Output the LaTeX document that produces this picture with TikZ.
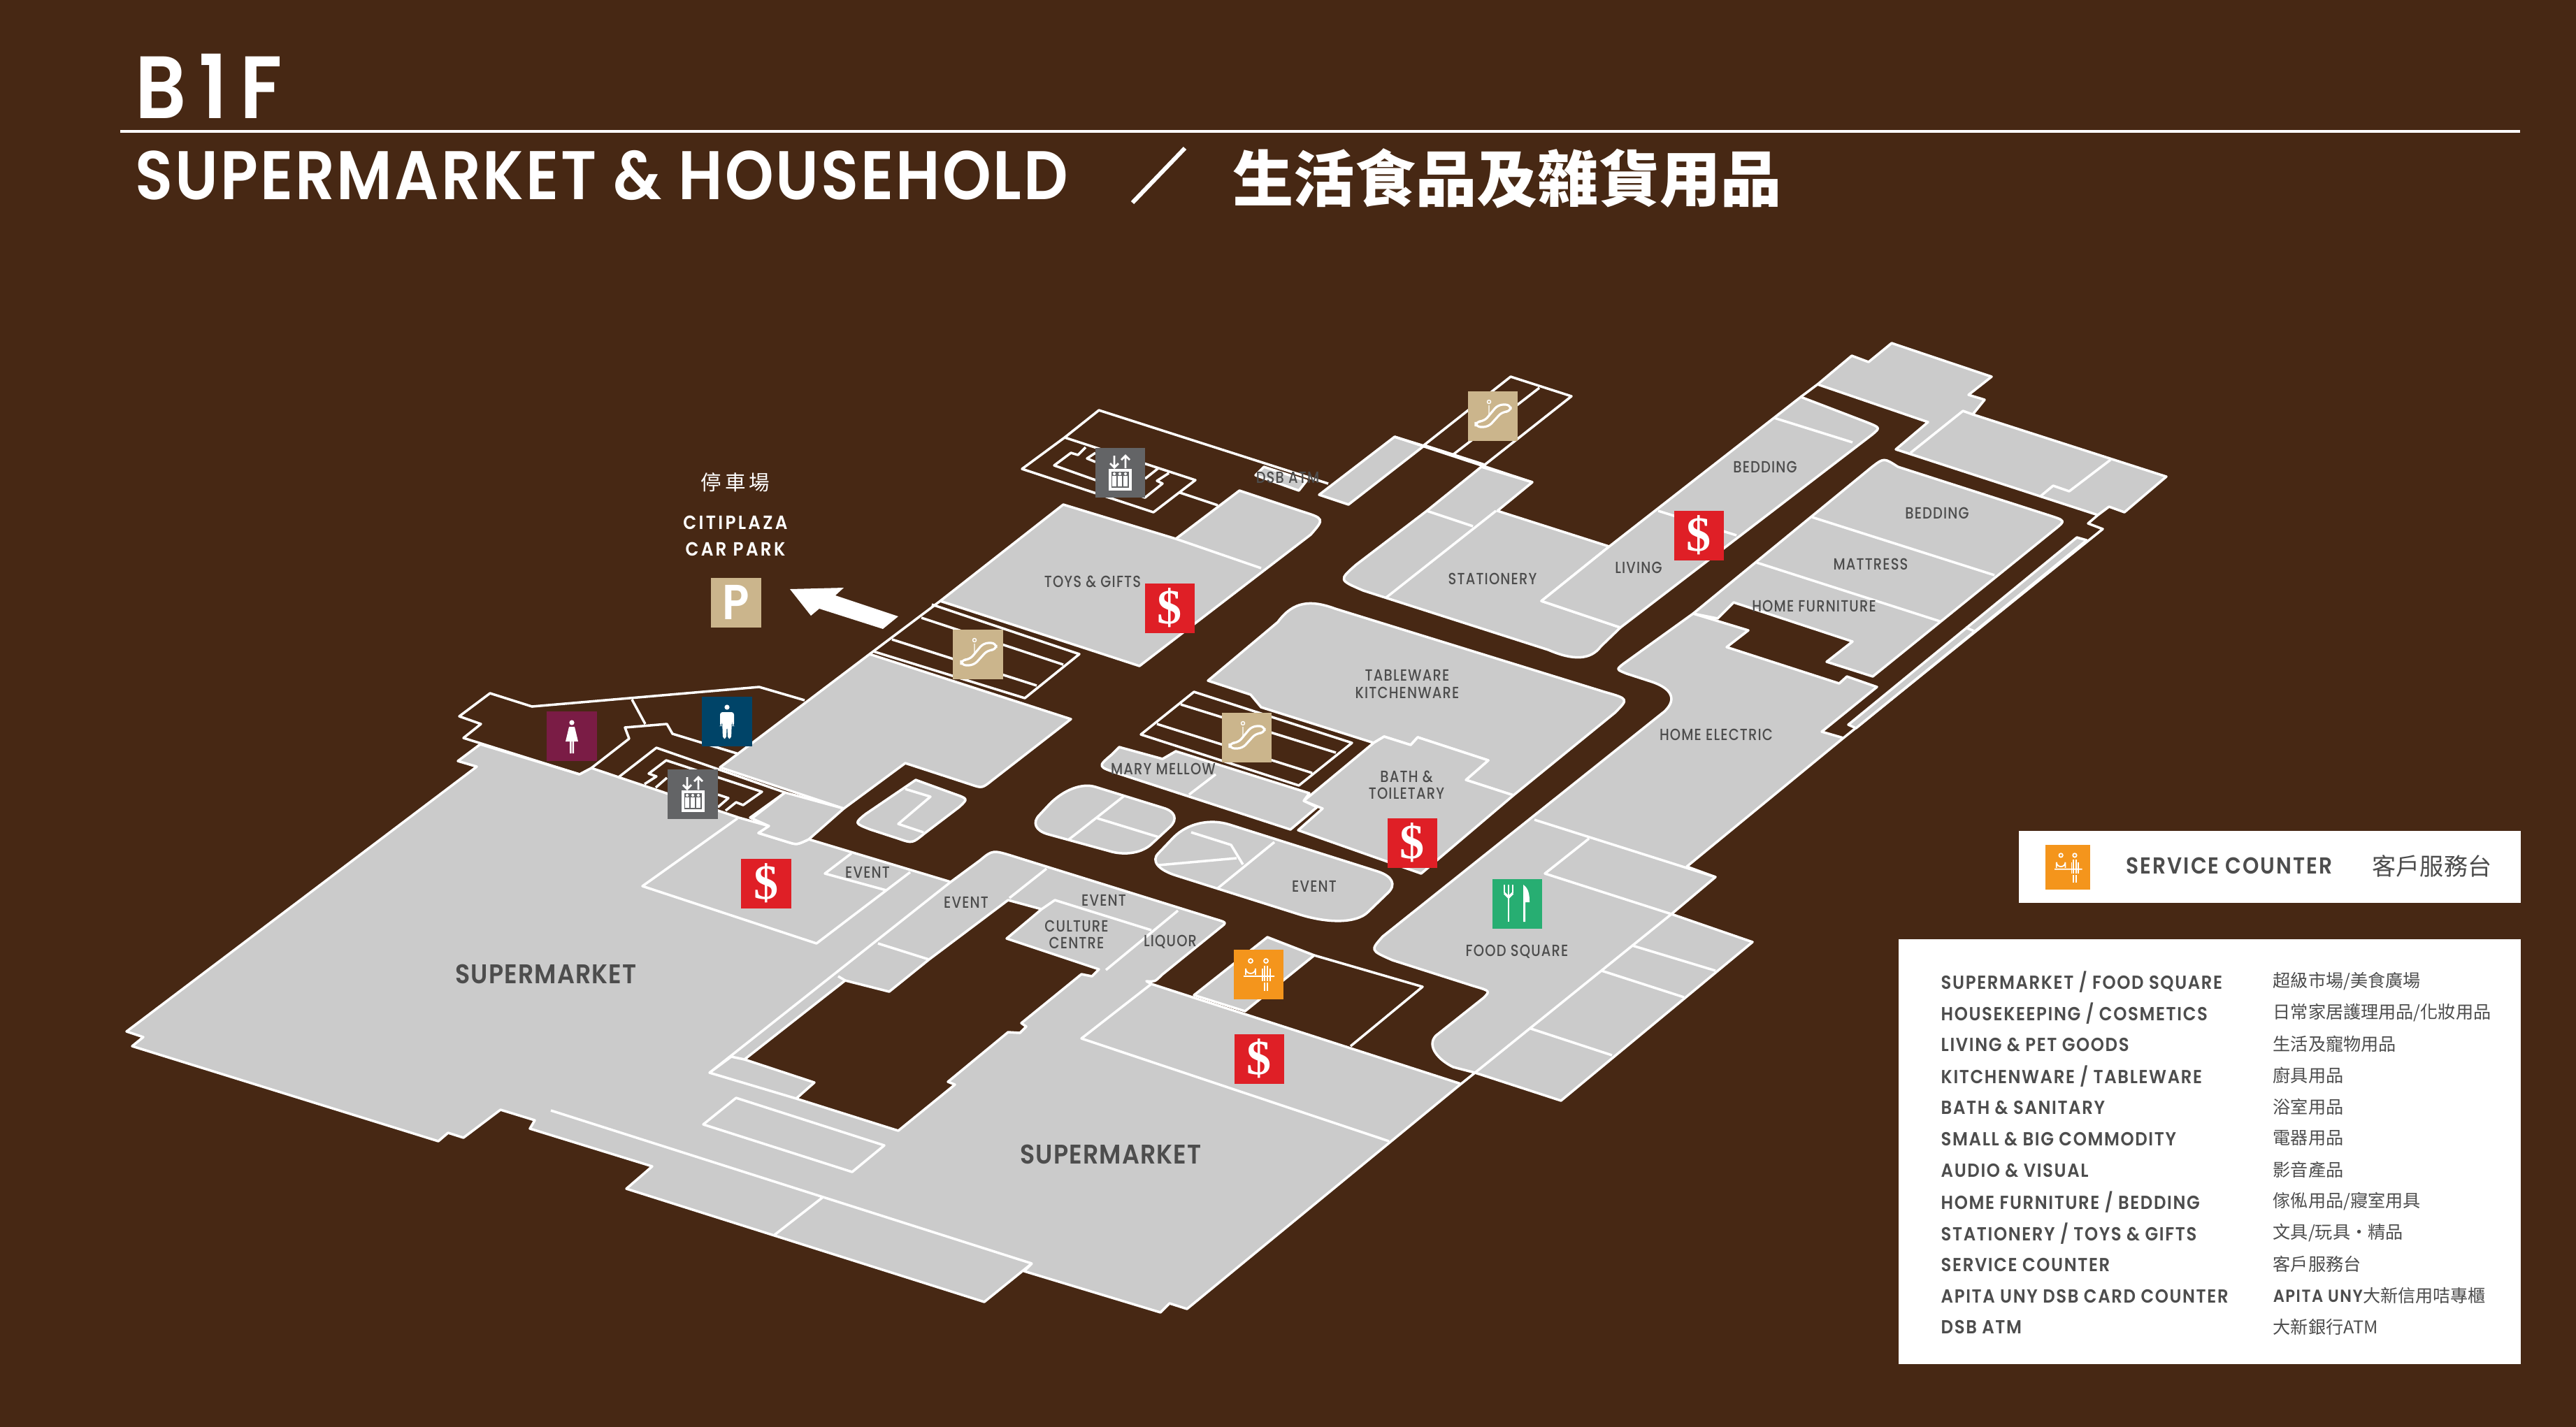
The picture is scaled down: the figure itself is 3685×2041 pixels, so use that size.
\documentclass[tikz,border=0pt]{standalone}
\usepackage{fontspec}
\newfontfamily\mapfont[FakeStretch=.84,LetterSpace=5]{Poppins Medium}
\newfontfamily\headfont[FakeStretch=.9,LetterSpace=6]{Poppins SemiBold}
\newfontfamily\headbold[FakeStretch=.9,LetterSpace=3]{Poppins SemiBold}
\newfontfamily\zhfont{Noto Sans CJK TC}
\newfontfamily\cashfont{Liberation Serif}
\definecolor{bgbrown}{HTML}{472814}
\definecolor{shopgray}{HTML}{CBCBCB}
\definecolor{ink}{HTML}{4D4D4D}
\definecolor{cashred}{HTML}{DF1F26}
\definecolor{tan}{HTML}{CBB58C}
\definecolor{ladies}{HTML}{7A1C45}
\definecolor{gents}{HTML}{004468}
\definecolor{liftgray}{HTML}{636466}
\definecolor{counter}{HTML}{F4951C}
\definecolor{foodgreen}{HTML}{27AE72}
\tikzset{
  liftmark/.pic={
    \draw[white,line width=.8pt] (-8,-24) -- (-8,-7) (-14,-13) -- (-8,-7) -- (-2,-13)
      (8,-6) -- (8,-24) (2,-18) -- (8,-24) -- (14,-18);
    \draw[white,line width=.9pt] (-14,-3) rectangle (15,24);
    \foreach \px in {-8,0,8}{
      \fill[white] (\px,2) circle (2);
      \fill[white] (\px-3,5) rectangle (\px+3,20);
    }
  },
  escmark/.pic={
    \draw[white,line width=.9pt,rounded corners=2] (-24,8) -- (-12,8) -- (8,-16) -- (26,-16)
      -- (26,-6) -- (14,-6) -- (-6,16) -- (-24,16) -- cycle;
    \draw[white,line width=.4pt] (-5,-20) circle (2.5) (-5,-15) -- (-5,-2);
  },
  ladymark/.pic={
    \fill[white] (0,-19) circle (3.6);
    \fill[white] (-4,-13) -- (4,-13) -- (9,8) -- (-9,8) -- cycle;
    \fill[white] (-3,8) rectangle (-.5,25) (.5,8) rectangle (3,25);
  },
  manmark/.pic={
    \fill[white] (0,-20) circle (3.6);
    \fill[white,rounded corners=1] (-10,-13) -- (10,-13) -- (10,7) -- (7.5,7) -- (7,-3) -- (6,25)
      -- (1,25) -- (.5,8) -- (-.5,8) -- (-1,25) -- (-6,25) -- (-7,-3) -- (-7.5,7) -- (-10,7) -- cycle;
  },
  servicemark/.pic={
    \draw[white,line width=.5pt] (-11,-19) circle (3) (11,-19) circle (3)
      (-18,1) -- (-18,-8) arc (180:0:7) -- (-4,1) (-21,3) -- (23,3);
    \draw[white,line width=.5pt] (6,-8) -- (6,10) (9,-12) -- (9,10) (13,-12) -- (13,10) (17,-8) -- (17,10)
      (9,12) -- (9,24) (13,12) -- (13,24);
  },
  foodmark/.pic={
    \draw[white,line width=.7pt] (-18,-27) -- (-18,-15) (-12,-27) -- (-12,26) (-6,-27) -- (-6,-15);
    \draw[white,line width=1pt] (-18,-15) -- (-12,-9) -- (-6,-15);
    \fill[white] (9,-27) .. controls (17,-22) and (18,-12) .. (18,-2) -- (12,-2) -- (12,26) -- (9,26) -- cycle;
  }
}
\begin{document}
\begin{tikzpicture}[x=.01cm,y=-.01cm,
    shop/.style={fill=shopgray,draw=white,line width=1pt,line join=round},
    wall/.style={draw=white,line width=1pt,line join=round},
    hole/.style={fill=bgbrown,draw=white,line width=1pt,line join=round},
    iconbox/.style={minimum size=.71cm,inner sep=0,outer sep=0},
    cash/.style={iconbox,fill=cashred,text=white,font=\cashfont\bfseries\fontsize{20}{20}\selectfont},
    lbl/.style={font=\mapfont\fontsize{6.6}{6.9}\selectfont,text=ink,align=center,inner sep=0},
    biglbl/.style={font=\headbold\fontsize{11}{12}\selectfont,text=ink,inner sep=0},
    listen/.style={font=\headfont\fontsize{7.7}{9}\selectfont,text=ink,anchor=west,inner sep=0},
    listzh/.style={font=\zhfont\fontsize{7.15}{9}\selectfont,text=ink,anchor=west,inner sep=0}]
  \useasboundingbox (0,0) rectangle (3685,2041);
  \fill[bgbrown] (-10,-10) rectangle (3695,2051);
  % title
  \node[font=\headbold\addfontfeatures{LetterSpace=14}\fontsize{36}{36}\selectfont,text=white,anchor=west,inner sep=0] (floorname) at (193,123) {B1F};
  \draw[white,line width=1.4pt] (172,188) -- (3605,188);
  \node[font=\headbold\fontsize{28}{28}\selectfont,text=white,anchor=west,inner sep=0] (titleen) at (193,251) {SUPERMARKET \& HOUSEHOLD};
  \draw[white,line width=1.7pt] (1620,290) -- (1695,212);
  \node[font=\zhfont\bfseries\fontsize{24.8}{26}\selectfont,text=white,anchor=west,inner sep=0] (titlezh) at (1763,255) {生活食品及雜貨用品};
  % big supermarket floor
  \draw[shop] (687,1065) -- (829,1108) -- (846,1099) -- (1057,1170) -- (1100,1182) -- (1085,1192)
    -- (1127,1205) .. controls (1140,1209) .. (1157,1201) -- (1360,1262)
    -- (1402,1231) .. controls (1420,1216) .. (1452,1226) -- (1738,1315) .. controls (1755,1320) .. (1746,1327)
    -- (1662,1395) .. controls (1652,1405) .. (1640,1404) -- (1647,1408) -- (2090,1551)
    -- (1698,1873) -- (1673,1865) -- (1660,1878) -- (1465,1819) -- (1476,1808) -- (1408,1863)
    -- (896,1701) -- (933,1669) -- (758,1615) -- (765,1603) -- (716,1588) -- (663,1628) -- (641,1621)
    -- (627,1633) -- (189,1497) -- (205,1484) -- (181,1476) -- (682,1097) -- (655,1089) -- cycle;
  \draw[hole] (1442,1288) -- (1490,1301) -- (1440,1343) -- (1572,1387) -- (1562,1397) -- (1547,1394)
    -- (1461,1464) -- (1468,1469) -- (1459,1478) -- (1442,1477) -- (1356,1548) -- (1366,1552) -- (1285,1618)
    -- (1139,1572) -- (1165,1549) -- (1065,1516) -- (1209,1403) -- (1272,1419) -- (1329,1373) -- cycle;
  \draw[wall] (788,1589) -- (1476,1808) (1176,1714) -- (1108,1767);
  \draw[shop] (1053,1571) -- (1265,1639) -- (1219,1677) -- (1006,1609) -- cycle;
  \draw[wall] (1046,1512) -- (1015,1535) -- (1139,1572) (1046,1512) -- (1065,1516) (1015,1535) -- (1360,1262)
    (1199,1397) -- (1209,1403) (1256,1350) -- (1329,1373) (1444,1285) -- (1497,1243)
    (1490,1301) -- (1509,1288) -- (1647,1331) (1685,1303) -- (1582,1388)
    (1647,1408) -- (1547,1486) -- (1987,1633)
    (1055,1171) -- (919,1268) -- (1168,1350) -- (1302,1248)
    (1218,1221) -- (1180,1250) -- (1268,1274);
  % service counter corner
  \draw[shop] (1708,1424) -- (1813,1341) -- (1880,1367) -- (1781,1447) -- cycle;
  \draw[wall] (1880,1367) -- (2035,1412) -- (1932,1497);
  % shops round the aisles
  \draw[shop] (1244,936) -- (1532,1029) -- (1420,1116) .. controls (1405,1128) .. (1390,1123) -- (1295,1092)
    -- (1207,1157) -- (1030,1098) -- cycle;
  \draw[shop] (1123,1134) -- (1207,1157) -- (1157,1201) .. controls (1140,1209) .. (1127,1205) -- (1085,1192)
    -- (1100,1182) -- (1073,1170) -- cycle;
  \draw[shop] (1521,722) -- (1682,771) -- (1773,702) -- (1860,731) .. controls (1895,742) .. (1875,765)
    -- (1630,953) -- (1345,860) -- cycle;
  \draw[wall] (1682,771) -- (1804,813);
  \draw[wall] (1244,936) -- (1345,860);
  \draw[shop] (1728,974) -- (1789,994) -- (1804,1012) -- (1965,1063) -- (1980,1054) -- (2018,1066) -- (2028,1055)
    -- (2129,1088) -- (2097,1116) -- (2165,1138) -- (2310,1020) .. controls (2330,1000) .. (2295,990)
    -- (1910,871) .. controls (1875,858) and (1850,860) .. (1828,890) -- cycle;
  \draw[shop] (1965,1063) -- (1980,1054) -- (2018,1066) -- (2028,1055) -- (2129,1088) -- (2097,1116) -- (2165,1138)
    -- (2033,1250) -- (1857,1188) -- (1892,1157) -- (1865,1146) -- cycle;
  \draw[shop] (1601,1069) -- (1663,1086) -- (1682,1075) -- (1873,1135) -- (1865,1146) -- (1884,1155) -- (1846,1187)
    -- (1600,1107) .. controls (1570,1097) .. (1590,1080) -- cycle;
  \draw[wall] (1701,1137) -- (1739,1108);
  % islands
  \draw[shop] (1310,1116) -- (1365,1136) .. controls (1385,1143) .. (1372,1155) -- (1322,1193)
    .. controls (1305,1207) .. (1285,1200) -- (1245,1187) .. controls (1222,1178) .. (1238,1165) -- cycle;
  \draw[wall] (1295,1129) -- (1331,1140) -- (1285,1179) -- (1321,1191);
  \draw[shop] (1502,1150) .. controls (1522,1130) and (1548,1120) .. (1567,1126) -- (1664,1156)
    .. controls (1681,1161) and (1685,1172) .. (1674,1183) -- (1647,1208)
    .. controls (1634,1220) and (1612,1224) .. (1591,1219) -- (1500,1194)
    .. controls (1481,1189) and (1476,1177) .. (1487,1166) -- cycle;
  \draw[wall] (1608,1139) -- (1528,1202) (1570,1171) -- (1658,1198);
  \draw[shop] (1679,1198) .. controls (1699,1178) and (1731,1171) .. (1759,1180) -- (1971,1247)
    .. controls (1992,1254) and (1998,1266) .. (1985,1278) -- (1957,1305)
    .. controls (1941,1321) and (1901,1322) .. (1857,1308) -- (1683,1253)
    .. controls (1657,1245) and (1646,1232) .. (1657,1221) -- cycle;
  \draw[wall] (1823,1205) -- (1742,1271) (1704,1191) -- (1761,1209) -- (1778,1237) (1657,1238) -- (1769,1228);
  % stationery, living, upper blocks
  \draw[shop] (2119,668) -- (2192,690) -- (2142,731) -- (2302,782) -- (2205,860) -- (2318,898)
    -- (2290,925) .. controls (2275,945) and (2250,945) .. (2215,930) -- (1950,845) .. controls (1915,830) .. (1940,808)
    -- (2041,731) -- cycle;
  \draw[wall] (2041,731) -- (2107,753) (2140,731) -- (1983,855);
  \draw[shop] (2205,860) -- (2302,782) -- (2576,568) -- (2670,604) .. controls (2690,612) .. (2678,622) -- (2318,898) -- cycle;
  \draw[wall] (2538,598) -- (2650,633) (2372,731) -- (2484,766);
  \draw[shop] (2600,550) -- (2649,509) -- (2673,518) -- (2706,491) -- (2849,539) -- (2816,565) -- (2839,572)
    -- (2822,593) -- (3099,682) -- (3039,733) -- (3017,725) -- (3001,737) -- (2712,643) -- (2758,604) -- cycle;
  \draw[wall] (2822,593) -- (2808,588) -- (2733,648) (2600,550) -- (2576,568)
    (3019,658) -- (2960,703) -- (2937,695) -- (2919,710);
  \draw[wall] (3001,737) -- (2987,749) -- (3008,757) -- (2637,1056);
  \draw[shop] (2971,769) -- (2985,773) -- (2655,1042) -- (2644,1037) -- cycle;
  \draw[wall] (2812,898) -- (2824,903);
  \draw[shop] (2678,668) .. controls (2695,655) .. (2715,668) -- (2930,737) .. controls (2955,745) .. (2940,757)
    -- (2679,968) -- (2613,947) -- (2650,918) -- (2480,862) -- (2457,885) -- (2422,878) -- cycle;
  \draw[wall] (2592,740) -- (2853,823) (2513,805) -- (2775,889);
  % home electric and food square
  \draw[shop] (2422,878) -- (2501,902) -- (2470,926) -- (2631,978) -- (2642,968) -- (2685,983) -- (2606,1047)
    -- (2637,1056) -- (2413,1240) -- (2454,1255) -- (2391,1308) -- (2507,1348) -- (2233,1575) -- (2110,1535) -- (2079,1527)
    .. controls (2058,1517) and (2040,1497) .. (2054,1482) -- (2122,1428) .. controls (2132,1418) .. (2108,1411)
    -- (1992,1374) .. controls (1960,1360) .. (1978,1340) -- (2381,1018) .. controls (2400,1000) and (2390,985) .. (2364,976)
    -- (2327,964) .. controls (2312,958) .. (2322,950) -- cycle;
  \draw[wall] (2195,1173) -- (2454,1255) (2273,1200) -- (2210,1250) -- (2391,1308) (2391,1308) -- (2110,1535) -- (2090,1551)
    (2335,1353) -- (2454,1389) (2291,1389) -- (2409,1427) (2190,1472) -- (2306,1510);
  % escalators and lifts, outlines only
  \draw[wall] (1333,865) -- (1544,936) -- (1466,999) -- (1249,932) (1318,884) -- (1521,951) (1276,915) -- (1483,981);
  \draw[wall] (1708,990) -- (1934,1063) -- (1858,1124) -- (1632,1051) -- cycle (1689,1008) -- (1911,1077) (1655,1036) -- (1877,1106);
  \draw[wall] (2161,539) -- (2248,567) -- (2124,665) -- (2037,637) -- cycle (2202,555) -- (2078,651);
  \draw[shop] (1995,625) -- (2037,638) -- (1929,722) -- (1887,708) -- cycle;
  \draw[wall] (1995,625) -- (2192,690);
  \draw[wall] (1523,626) -- (1462,671) -- (1650,733) -- (1710,687) -- (1523,626) (1523,626) -- (1572,587) -- (1900,692)
    (1688,705) -- (1742,723)
    (1553,640) -- (1542,651) -- (1532,648) -- (1508,666) -- (1638,712) -- (1663,692) -- (1655,688) -- (1672,677)
    (1567,648) -- (1555,656) -- (1567,661) (1638,685) -- (1657,670);
  \draw[shop] (1808,668) -- (1869,688) -- (1858,702) -- (1796,680) -- cycle;
  % toilets and west lift
  \draw[wall] (829,1108) -- (663,1056) -- (688,1036) -- (657,1025) -- (701,992) -- (761,1011) -- (1086,983) -- (1151,1002)
    (846,1099) -- (900,1057) -- (894,1041) -- (954,1036) -- (962,1050) -- (1057,1079)
    (904,1001) -- (923,1036);
  \draw[wall] (885,1112) -- (939,1070) -- (1123,1134) -- (1077,1170)
    (922,1122) -- (939,1111) -- (928,1107) -- (953,1088) -- (1090,1133) -- (1063,1152) -- (1053,1148) -- (1038,1160)
    (954,1113) -- (938,1127) (1027,1137) -- (1042,1142) -- (1027,1155);
  % arrow to car park
  \fill[white] (1130,843) -- (1207,841) -- (1195,852) -- (1285,882) -- (1263,900) -- (1172,871) -- (1160,881) -- cycle;
  % icons
  \foreach \cname/\cx/\cy in {cashwest/1096/1264,cashtoys/1673/870,cashbath/2020/1206,cashsouth/1801/1515,cashliving/2430/766}
    \node[cash] (\cname) at (\cx,\cy) {\$};
  \node[iconbox,fill=ladies] (ladies) at (818,1053) {};
  \pic at (ladies) {ladymark};
  \node[iconbox,fill=gents] (gents) at (1040,1032) {};
  \pic at (gents) {manmark};
  \node[iconbox,fill=liftgray] (liftwest) at (991,1136) {};
  \pic at (liftwest) {liftmark};
  \node[iconbox,fill=liftgray] (liftnorth) at (1602,676) {};
  \pic at (liftnorth) {liftmark};
  \node[iconbox,fill=tan] (escwest) at (1399,936) {};
  \pic at (escwest) {escmark};
  \node[iconbox,fill=tan] (esccentre) at (1783,1055) {};
  \pic at (esccentre) {escmark};
  \node[iconbox,fill=tan] (escnorth) at (2135,595) {};
  \pic at (escnorth) {escmark};
  \node[iconbox,fill=counter] (counter) at (1800,1394) {};
  \pic at (counter) {servicemark};
  \node[iconbox,fill=foodgreen] (food) at (2170,1293) {};
  \pic at (food) {foodmark};
  \node[iconbox,fill=tan,text=white,font=\headbold\fontsize{20}{20}\selectfont] (parking) at (1053,862) {P};
  % car park text
  \node[font=\zhfont\fontsize{8.4}{10}\selectfont,text=white,inner sep=0] (parkzh) at (1052,690) {停\,車\,場};
  \node[font=\headbold\addfontfeatures{LetterSpace=12}\fontsize{7.8}{10.8}\selectfont,text=white,align=center,inner sep=0] (parken) at (1052,767) {CITIPLAZA\\CAR PARK};
  % shop names
  \node[biglbl] (smwest) at (781,1394) {SUPERMARKET};
  \node[biglbl] (smsouth) at (1589,1652) {SUPERMARKET};
  \node[lbl] (evone) at (1241,1248) {EVENT};
  \node[lbl] (evtwo) at (1382,1291) {EVENT};
  \node[lbl] (evthree) at (1579,1288) {EVENT};
  \node[lbl] (culture) at (1540,1337) {CULTURE\\CENTRE};
  \node[lbl] (liquor) at (1674,1348) {LIQUOR};
  \node[lbl] (evfour) at (1880,1268) {EVENT};
  \node[lbl] (mary) at (1664,1100) {MARY MELLOW};
  \node[lbl] (bath) at (2012,1123) {BATH \&\\TOILETARY};
  \node[lbl] (toys) at (1563,832) {TOYS \& GIFTS};
  \node[lbl] (dsbatm) at (1842,683) {DSB ATM};
  \node[lbl] (tableware) at (2013,979) {TABLEWARE\\KITCHENWARE};
  \node[lbl] (stationery) at (2135,828) {STATIONERY};
  \node[lbl] (living) at (2344,812) {LIVING};
  \node[lbl] (beddingone) at (2525,668) {BEDDING};
  \node[lbl] (beddingtwo) at (2771,734) {BEDDING};
  \node[lbl] (mattress) at (2676,807) {MATTRESS};
  \node[lbl] (homefurn) at (2595,867) {HOME FURNITURE};
  \node[lbl] (homeelec) at (2455,1051) {HOME ELECTRIC};
  \node[lbl] (foodsq) at (2170,1362) {FOOD SQUARE};
  % service counter panel
  \fill[white] (2888,1189) rectangle (3606,1292);
  \node[minimum size=.64cm,inner sep=0,fill=counter] (counterkey) at (2958,1241) {};
  \pic[scale=.9] at (counterkey) {servicemark};
  \node[font=\headfont\fontsize{9.4}{11}\selectfont,text=ink,anchor=west,inner sep=0] (counteren) at (3041,1239) {SERVICE COUNTER};
  \node[font=\zhfont\fontsize{9.7}{11}\selectfont,text=ink,anchor=west,inner sep=0] (counterzh) at (3393,1239) {客戶服務台};
  % list panel
  \fill[white] (2716,1344) rectangle (3606,1952);
  \foreach \en/\zh [count=\i from 0] in {
      {SUPERMARKET / FOOD SQUARE}/{超級市場/美食廣場},
      {HOUSEKEEPING / COSMETICS}/{日常家居護理用品/化妝用品},
      {LIVING \& PET GOODS}/{生活及寵物用品},
      {KITCHENWARE / TABLEWARE}/{廚具用品},
      {BATH \& SANITARY}/{浴室用品},
      {SMALL \& BIG COMMODITY}/{電器用品},
      {AUDIO \& VISUAL}/{影音產品},
      {HOME FURNITURE / BEDDING}/{傢俬用品/寢室用具},
      {STATIONERY / TOYS \& GIFTS}/{文具/玩具・精品},
      {SERVICE COUNTER}/{客戶服務台},
      {APITA UNY DSB CARD COUNTER}/{{\headfont APITA UNY}大新信用咭專櫃},
      {DSB ATM}/{大新銀行ATM}}{
    \node[listen] (rowen\i) at (2776,1405+\i*44.95) {\en};
    \node[listzh] (rowzh\i) at (3251,1404+\i*44.95) {\zh};
  }
\end{tikzpicture}
\end{document}
